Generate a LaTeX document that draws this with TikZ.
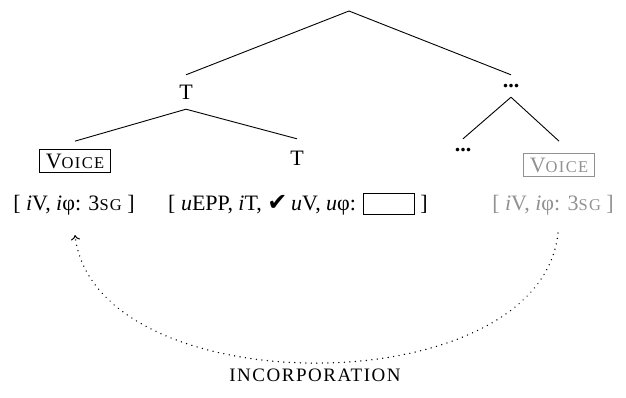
\documentclass[tikz,border=0pt]{standalone}
\usepackage{fontspec}
\usetikzlibrary{arrows.meta}
\setmainfont{Liberation Serif}
\newfontfamily\symfont{DejaVu Sans}
\newfontfamily\spacedfont[LetterSpace=8]{Liberation Serif}
\definecolor{faded}{RGB}{145,145,145}
% small capitals built from scaled, slightly spaced capitals
\newcommand{\smcp}[2][16.5]{{\spacedfont\fontsize{#1}{#1}\selectfont #2}}
\newcommand{\chk}{{\symfont\fontsize{24}{26}\selectfont ✔}}
\newcommand{\valbox}{{\setlength\fboxsep{0pt}\setlength\fboxrule{0.8pt}\fbox{\rule[-4pt]{0pt}{20pt}\hspace{50pt}}}}
\tikzset{
  branch/.style={line width=0.9pt},
  lbl/.style={inner sep=0pt, font=\fontsize{22}{26}\selectfont},
  headbox/.style={draw, line width=0.8pt, inner xsep=6pt, inner ysep=4.5pt, font=\fontsize{22}{26}\selectfont},
  feat/.style={inner sep=0pt, anchor=base, font=\fontsize{22}{26}\selectfont},
  move/.style={line width=1.5pt, dash pattern=on 0.01pt off 5.5pt, line cap=round, -{To[length=5pt,width=9pt,line width=1pt]}}
}
\begin{document}
\begin{tikzpicture}[x=1pt, y=-1pt]
\useasboundingbox (0,0) rectangle (626,397);

% tree skeleton
\coordinate (root) at (349,11);
\node[lbl, minimum height=34pt] (T1) at (186,92) {T};
\node[lbl, minimum height=22pt] (d1) at (511,86) {\textbf{...}};
\node[lbl, minimum height=38pt] (T2) at (297,158) {T};
\node[lbl, minimum height=22pt] (d2) at (463,150) {\textbf{...}};
\node[headbox, outer ysep=8pt] (v1) at (75,161) {V\smcp{OICE}};
\node[headbox, draw=faded, text=faded, outer ysep=12pt] (v2) at (559,165) {V\smcp{OICE}};

\draw[branch] (root) -- (T1.north);
\draw[branch] (root) -- (d1.north);
\draw[branch] (T1.south) -- (v1.north);
\draw[branch] (T1.south) -- (T2.north);
\draw[branch] (d1.south) -- (d2.north);
\draw[branch] (d1.south) -- (v2.north);

% feature bundles
\node[feat] (f1) at (74,210) {[ \textit{i}V, \textit{i}φ: 3\smcp{SG} ]};
\node[feat] (f2) at (298,210) {[ \textit{u}EPP, \textit{i}T, \chk\,\textit{u}V, \textit{u}φ: \valbox\ ]};
\node[feat, text=faded] (f3) at (553,210) {[ \textit{i}V, \textit{i}φ: 3\smcp{SG} ]};

% incorporation arc
\coordinate (src) at ([xshift=5pt, yshift=-23pt]f3.base);
\coordinate (dst) at ([xshift=1pt, yshift=-25pt]f1.base);
\draw[move] (src) .. controls (540,406) and (95,406) .. (dst);
\node[lbl] (inc) at (315,375) {\smcp[19]{INCORPORATION}};
\end{tikzpicture}
\end{document}
